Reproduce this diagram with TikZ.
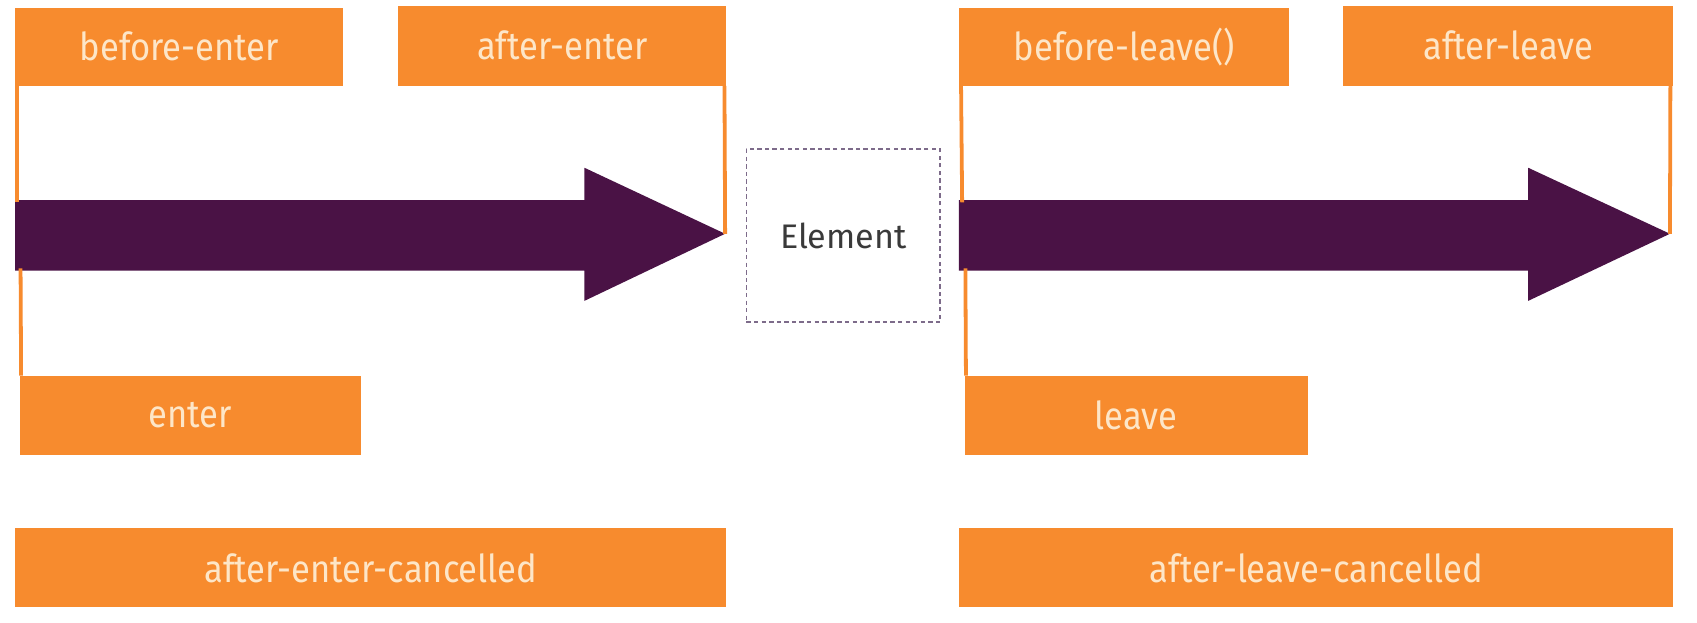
\documentclass[tikz,border=0pt]{standalone}
\usepackage{fontspec}
\setmainfont{Fira Sans}
\newfontfamily\boxfont{Fira Sans}[FakeStretch=0.9]
\definecolor{hookorange}{HTML}{F78B2E}
\definecolor{hooktext}{HTML}{FDE6C8}
\definecolor{flowpurple}{HTML}{4A1245}
\definecolor{dashgray}{HTML}{7D6B8A}
\definecolor{eltext}{HTML}{3A3A3A}
\tikzset{
  hook/.style={fill=hookorange, draw=none, text=hooktext, inner sep=0pt, anchor=north west,
    font=\boxfont\fontsize{35.5}{40}\selectfont},
  hookline/.style={draw=hookorange, line width=3.5pt},
  flow/.style={fill=flowpurple, draw=none},
  elbox/.style={draw=dashgray, line width=1.4pt, dash pattern=on 4pt off 3pt, inner sep=0pt,
    anchor=north west, text=eltext, font=\fontsize{31.5}{36}\selectfont}
}
\begin{document}
\begin{tikzpicture}[x=1pt,y=-1pt]
\useasboundingbox (0,0) rectangle (1568,575);
% left arrow
\coordinate (Ltip) at (670,216);
\fill[flow] (14,185) -- (540,185) -- (540,155) -- (Ltip) -- (540,278) -- (540,250) -- (14,250) -- cycle;
% right arrow
\coordinate (Rtip) at (1543,216);
\fill[flow] (886,185) -- (1412,185) -- (1412,155) -- (Rtip) -- (1412,278) -- (1412,250) -- (886,250) -- cycle;
% boxes
\node[hook, minimum width=303pt, minimum height=72pt] (be) at (14,7) {before-enter};
\node[hook, minimum width=303pt, minimum height=74pt] (ae) at (368,5) {after-enter};
\node[hook, minimum width=315pt, minimum height=73pt] (en) at (18,347) {enter};
\node[hook, minimum width=657pt, minimum height=73pt] (aec) at (14,488) {after-enter-cancelled};
\node[hook, minimum width=305pt, minimum height=72pt] (bl) at (886,7) {before-leave()};
\node[hook, minimum width=305pt, minimum height=74pt] (al) at (1241,5) {after-leave};
\node[hook, minimum width=317pt, minimum height=73pt] (lv) at (891,347) {leave};
\node[hook, minimum width=660pt, minimum height=73pt] (alc) at (886,488) {after-leave-cancelled};
\node[elbox, minimum width=179pt, minimum height=160pt] (el) at (689,137) {Element};
% connector lines
\coordinate (LtopA) at (16,187);
\coordinate (LbotA) at (19,248);
\coordinate (RtopA) at (889,187);
\coordinate (RbotA) at (892,248);
\draw[hookline] ([xshift=2pt]be.south west) -- (LtopA);
\draw[hookline] (LbotA) -- ([xshift=1.5pt]en.north west);
\draw[hookline] ([xshift=-2pt]ae.south east) -- (Ltip);
\draw[hookline] ([xshift=2pt]bl.south west) -- (RtopA);
\draw[hookline] (RbotA) -- ([xshift=1.5pt]lv.north west);
\draw[hookline] ([xshift=-3pt]al.south east) -- (Rtip);
\end{tikzpicture}
\end{document}
